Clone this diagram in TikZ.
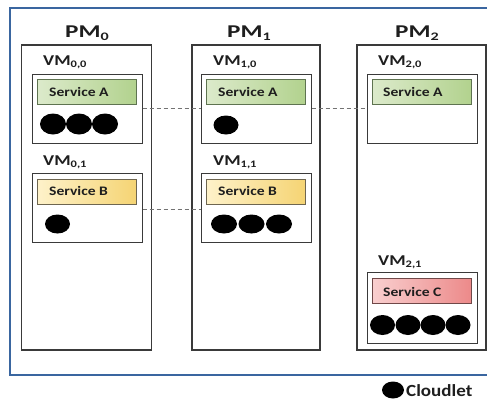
\documentclass[tikz,border=0pt]{standalone}
\usepackage{fontspec}
\setmainfont{Carlito}
\usepackage{graphicx}
\usetikzlibrary{shapes.geometric}
\definecolor{frameblue}{HTML}{3A66A0}
\definecolor{boxgray}{HTML}{3A3A3A}
\definecolor{aL}{HTML}{DCEACB}
\definecolor{aR}{HTML}{B2D28E}
\definecolor{aB}{HTML}{5E7350}
\definecolor{bL}{HTML}{FEF2CA}
\definecolor{bR}{HTML}{F5D474}
\definecolor{bB}{HTML}{6E6650}
\definecolor{cL}{HTML}{F9CFCF}
\definecolor{cR}{HTML}{EC8A8A}
\definecolor{cB}{HTML}{704848}
\definecolor{txt}{HTML}{1E1E1E}
\newcommand{\lblPM}[1]{\scalebox{1.4}[1]{\fontsize{18pt}{18pt}\selectfont\bfseries PM\raisebox{-3pt}{\fontsize{11.5pt}{11.5pt}\selectfont #1}}}
\newcommand{\lblVM}[1]{\scalebox{1.25}[1]{\fontsize{15pt}{15pt}\selectfont\bfseries VM\raisebox{-2.5pt}{\fontsize{10pt}{10pt}\selectfont #1}}}
\newcommand{\lblSvc}[1]{\scalebox{1.2}[1]{\fontsize{13pt}{13pt}\selectfont\bfseries #1}}
\begin{document}
\begin{tikzpicture}[x=1pt,y=-1pt,
  pmbox/.style={draw=boxgray, line width=1.1pt, fill=white, minimum width=130pt, minimum height=305pt, inner sep=0},
  vmbox/.style={draw=boxgray, line width=1pt, fill=white, minimum width=110pt, minimum height=69pt, inner sep=0},
  svcbox/.style={line width=0.9pt, minimum width=99pt, minimum height=25pt, inner sep=0},
  svcA/.style={svcbox, draw=aB, left color=aL, right color=aR},
  svcB/.style={svcbox, draw=bB, left color=bL, right color=bR},
  svcC/.style={svcbox, draw=cB, left color=cL, right color=cR},
  lbl/.style={inner sep=0, anchor=base west, text=txt},
  cldot/.style={ellipse, fill=black, inner sep=0, minimum width=26pt, minimum height=21pt},
  link/.style={draw=black!55, line width=0.8pt, dash pattern=on 4pt off 3pt}
]
\useasboundingbox (0,0) rectangle (487,400);
\fill[white] (0,0) rectangle (487,400);
\draw[frameblue, line width=2.8pt] (10,8) rectangle (500,375);

% physical machines
\node[pmbox] (pm0) at (86.5,197.5) {};
\node[pmbox, minimum width=128pt] (pm1) at (256,197.5) {};
\node[pmbox, minimum width=129pt] (pm2) at (421.5,197.5) {};
\node[lbl] (pm0l) at (65,37) {\lblPM{0}};
\node[lbl] (pm1l) at (227,37) {\lblPM{1}};
\node[lbl] (pm2l) at (395,37) {\lblPM{2}};

% virtual machines
\node[vmbox] (vm00) at (87,108.5) {};
\node[vmbox] (vm01) at (87,207.5) {};
\node[vmbox] (vm10) at (256,108.5) {};
\node[vmbox] (vm11) at (256,207.5) {};
\node[vmbox] (vm20) at (422,108.5) {};
\node[vmbox, minimum height=71pt] (vm21) at (422,307.5) {};
\node[lbl] (vm00l) at (43,65) {\lblVM{0,0}};
\node[lbl] (vm01l) at (43,165) {\lblVM{0,1}};
\node[lbl] (vm10l) at (213,65) {\lblVM{1,0}};
\node[lbl] (vm11l) at (213,165) {\lblVM{1,1}};
\node[lbl] (vm20l) at (378,65) {\lblVM{2,0}};
\node[lbl] (vm21l) at (378,265) {\lblVM{2,1}};

% services
\node[svcA] (sa0) at (86.5,91.5) {};
\node[svcB] (sb0) at (86.5,191.5) {};
\node[svcA] (sa1) at (255.5,91.5) {};
\node[svcB] (sb1) at (255.5,191.5) {};
\node[svcA] (sa2) at (421.5,91.5) {};
\node[svcC] (sc2) at (421.5,290.5) {};
\node[lbl] (sa0t) at (49,96) {\lblSvc{Service A}};
\node[lbl] (sb0t) at (49,195.5) {\lblSvc{Service B}};
\node[lbl] (sa1t) at (218,96) {\lblSvc{Service A}};
\node[lbl] (sb1t) at (218,195.5) {\lblSvc{Service B}};
\node[lbl] (sa2t) at (383,96) {\lblSvc{Service A}};
\node[lbl] (sc2t) at (383,296.5) {\lblSvc{Service C}};

% cloudlets
\node[cldot] (c000) at (53,124) {};
\node[cldot] (c001) at (79,124) {};
\node[cldot] (c002) at (105,124) {};
\node[cldot, minimum width=25pt, minimum height=19pt] (c010) at (57.5,224) {};
\node[cldot, minimum width=25pt, minimum height=19pt] (c100) at (226,125) {};
\node[cldot, minimum height=19pt] (c110) at (224,224) {};
\node[cldot, minimum height=19pt] (c111) at (251.5,224) {};
\node[cldot, minimum height=19pt] (c112) at (279,224) {};
\node[cldot, minimum width=25pt, minimum height=20pt] (c210) at (382.5,325) {};
\node[cldot, minimum width=25pt, minimum height=20pt] (c211) at (408,325) {};
\node[cldot, minimum width=25pt, minimum height=20pt] (c212) at (433,325) {};
\node[cldot, minimum width=25pt, minimum height=20pt] (c213) at (458,325) {};

% migration links
\draw[link] (vm00.east) -- (vm10.west);
\draw[link] (vm10.east) -- (vm20.west);
\draw[link] ([yshift=-1.5pt]vm01.east) -- ([yshift=-1.5pt]vm11.west);

% legend
\node[cldot, minimum width=22pt, minimum height=17pt] (legdot) at (393,390) {};
\node[lbl] (legtxt) at (406,396) {\scalebox{1.12}[1]{\fontsize{17pt}{17pt}\selectfont\bfseries Cloudlet}};
\end{tikzpicture}
\end{document}
